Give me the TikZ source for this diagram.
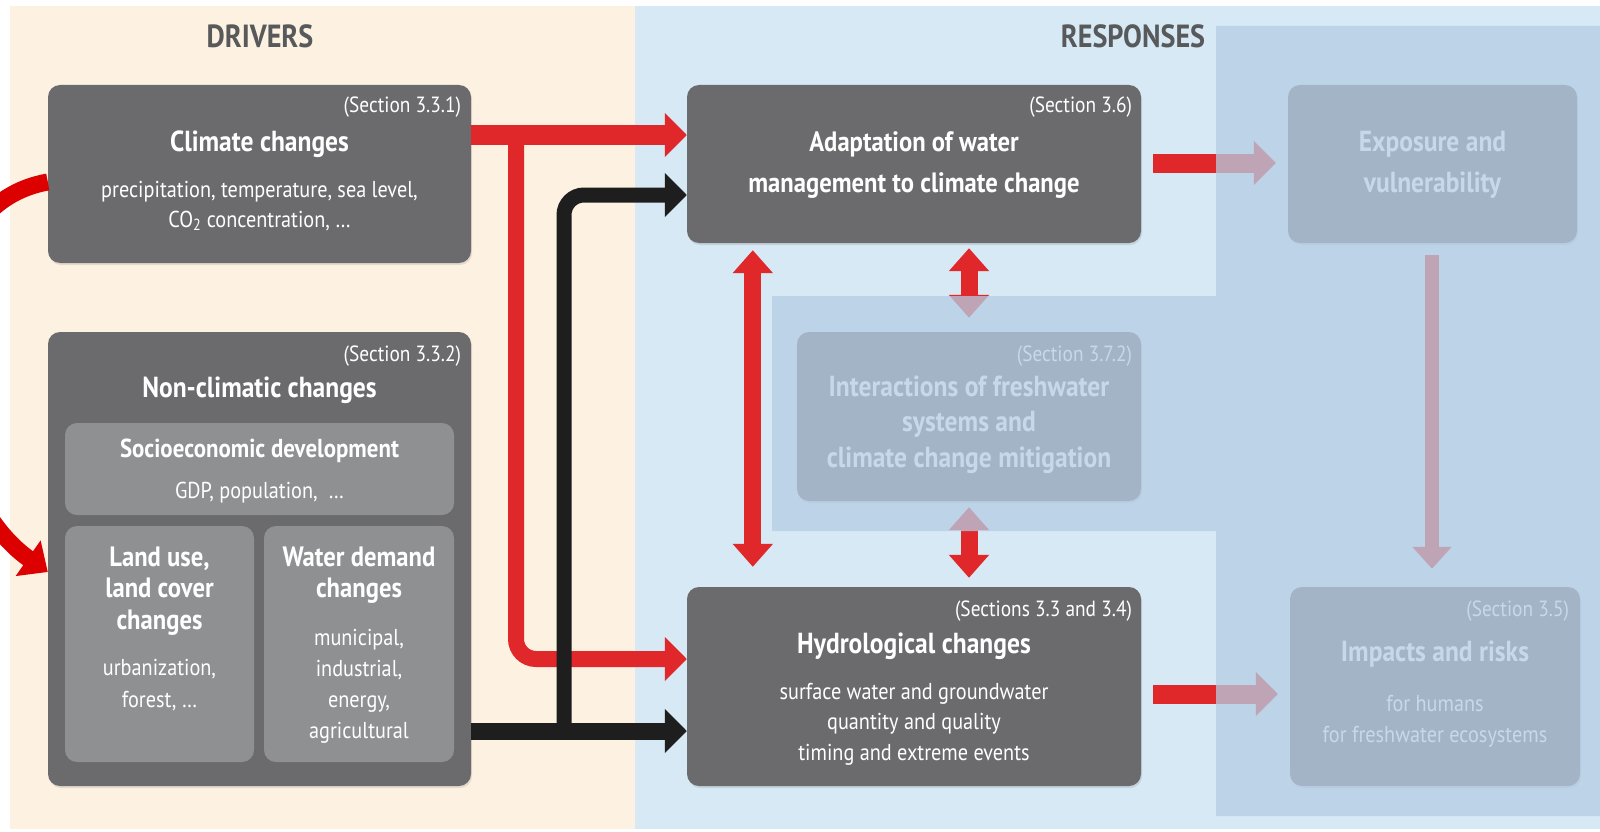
\documentclass[tikz,border=0pt]{standalone}
\usepackage{fontspec}
\setmainfont{PT Sans}[FakeStretch=0.88]
\usetikzlibrary{arrows.meta,positioning,shadows}

\definecolor{beige}{HTML}{FDF1E1}
\definecolor{bluebg}{HTML}{D6E9F5}
\definecolor{veil}{HTML}{B5CCE4}
\definecolor{boxgray}{HTML}{6B6B6E}
\definecolor{subgray}{HTML}{8E9092}
\definecolor{arrred}{HTML}{E0282A}
\definecolor{arrblack}{HTML}{1E1E1E}
\definecolor{loopred}{HTML}{DC0000}
\definecolor{headgray}{HTML}{58595B}

\tikzset{
  darkbox/.style={fill=boxgray, rounded corners=12pt, inner sep=0pt,
    drop shadow={shadow xshift=1pt, shadow yshift=-2pt, opacity=0.2}},
  subbox/.style={fill=subgray, rounded corners=12pt, inner sep=0pt},
  colhead/.style={text=headgray, font=\bfseries\fontsize{32}{36}\selectfont, anchor=base, inner sep=0pt},
  sec/.style={text=white, font=\fontsize{22}{26}\selectfont, anchor=base east, inner sep=0pt},
  ttl/.style={text=white, font=\bfseries\fontsize{29}{34}\selectfont, align=center, anchor=base, inner sep=0pt},
  txt/.style={text=white, font=\fontsize{23}{30}\selectfont, align=center, anchor=base, inner sep=0pt},
  redarr/.style={draw=arrred, line width=19pt, -{Triangle[length=22pt,width=43pt]}},
  blackarr/.style={draw=arrblack, line width=17pt, -{Triangle[length=22pt,width=43pt]}},
  reddbl/.style={draw=arrred, line width=17pt,
    {Triangle[length=23pt,width=39pt]}-{Triangle[length=23pt,width=39pt]}},
  downarr/.style={draw=arrred, line width=14pt, -{Triangle[length=22pt,width=38pt]}},
}

\begin{document}
\begin{tikzpicture}[x=1pt,y=-1pt]
  \useasboundingbox (0,0) rectangle (1600,832);
  \fill[white] (0,0) rectangle (1600,832);
  % panels
  \fill[beige] (10,6) rectangle (635,829);
  \fill[bluebg] (635,6) rectangle (1600,829);
  \node[colhead] (drivers) at (260,48) {DRIVERS};
  \node[colhead] (responses) at (1133,48) {RESPONSES};

  % drivers (multi-line texts sit on their last line)
  \node[darkbox, minimum width=423pt, minimum height=178pt] (clim) at (259.5,174) {};
  \node[sec] (climsec) at ([xshift=-10pt]clim.east |- 0,113) {(Section 3.3.1)};
  \node[ttl] (climttl) at (clim |- 0,151) {Climate changes};
  \node[txt] (climtxt) at (clim |- 0,227) {precipitation, temperature, sea level,\\CO\textsubscript{2} concentration, …};

  \node[darkbox, minimum width=423pt, minimum height=454pt] (nonclim) at (259.5,559) {};
  \node[sec] (nonclimsec) at ([xshift=-10pt]nonclim.east |- 0,361) {(Section 3.3.2)};
  \node[ttl] (nonclimttl) at (nonclim |- 0,397) {Non-climatic changes};

  \node[subbox, minimum width=389pt, minimum height=92pt] (socio) at (259.5,469) {};
  \node[ttl, font=\bfseries\fontsize{26}{30}\selectfont] (sociottl) at (socio |- 0,457) {Socioeconomic development};
  \node[txt] (sociotxt) at (socio |- 0,498) {GDP, population,~~…};

  \node[subbox, minimum width=189pt, minimum height=236pt] (land) at (159.5,644) {};
  \node[ttl, font=\bfseries\fontsize{28}{31.5}\selectfont] (landttl) at (land |- 0,629) {Land use,\\land cover\\changes};
  \node[txt, font=\fontsize{23}{32}\selectfont] (landtxt) at (land |- 0,707) {urbanization,\\forest, …};

  \node[subbox, minimum width=190pt, minimum height=236pt] (water) at (359,644) {};
  \node[ttl, font=\bfseries\fontsize{28}{31.5}\selectfont] (waterttl) at (water |- 0,597.5) {Water demand\\changes};
  \node[txt, font=\fontsize{23}{31}\selectfont] (watertxt) at (water |- 0,738) {municipal,\\industrial,\\energy,\\agricultural};

  % responses
  \node[darkbox, minimum width=454pt, minimum height=158pt] (adapt) at (914,164) {};
  \node[sec] (adaptsec) at ([xshift=-9pt]adapt.east |- 0,113) {(Section 3.6)};
  \node[ttl, font=\bfseries\fontsize{28}{41}\selectfont] (adaptttl) at (adapt |- 0,192) {Adaptation of water\\management to climate change};

  \node[darkbox, minimum width=454pt, minimum height=199pt] (hydro) at (914,686.5) {};
  \node[sec] (hydrosec) at ([xshift=-9pt]hydro.east |- 0,616) {(Sections 3.3 and 3.4)};
  \node[ttl] (hydrottl) at (hydro |- 0,653) {Hydrological changes};
  \node[txt, font=\fontsize{23}{30.5}\selectfont] (hydrotxt) at (hydro |- 0,760) {surface water and groundwater\\quantity and quality\\timing and extreme events};

  \node[darkbox, minimum width=344pt, minimum height=169pt] (inter) at (969,416.5) {};
  \node[sec] (intersec) at ([xshift=-9pt]inter.east |- 0,361) {(Section 3.7.2)};
  \node[ttl, font=\bfseries\fontsize{29}{35.5}\selectfont] (interttl) at (inter |- 0,467) {Interactions of freshwater\\systems and\\climate change mitigation};

  \node[darkbox, minimum width=289pt, minimum height=158pt] (expo) at (1432.5,164) {};
  \node[ttl, font=\bfseries\fontsize{29}{41}\selectfont] (expottl) at (expo |- 0,192) {Exposure and\\vulnerability};

  \node[darkbox, minimum width=290pt, minimum height=199pt] (impact) at (1435,686.5) {};
  \node[sec] (impactsec) at ([xshift=-11pt]impact.east |- 0,616) {(Section 3.5)};
  \node[ttl] (impactttl) at (impact |- 0,661) {Impacts and risks};
  \node[txt, font=\fontsize{23}{31}\selectfont] (impacttxt) at (impact |- 0,742) {for humans\\for freshwater ecosystems};

  % connectors
  \coordinate (redin) at ([yshift=29pt]adapt.west);
  \coordinate (blackin) at ([yshift=-31pt]adapt.west);
  \coordinate (redlow) at ([yshift=27.5pt]hydro.west);
  \coordinate (blacklow) at ([yshift=-44.5pt]hydro.west);
  \coordinate (redsplit) at (516,0 |- redin);
  \coordinate (blacksplit) at (564,0 |- blacklow);
  \draw[redarr] (clim.east |- redin) -- (redin);
  \draw[redarr, line width=16pt, rounded corners=20pt] (redsplit) |- (redlow);
  \draw[blackarr] (nonclim.east |- blacklow) -- (blacklow);
  \draw[blackarr, line width=15pt, rounded corners=20pt] (blacksplit) |- (blackin);

  \draw[reddbl] ([xshift=66pt,yshift=-7pt]adapt.south west) -- ([xshift=66pt,yshift=20pt]hydro.north west);
  \draw[reddbl] ([yshift=-5pt]adapt.south -| inter) -- ([yshift=14pt]inter.north);
  \draw[reddbl] ([yshift=-6pt]inter.south) -- ([yshift=9pt]hydro.north -| inter);

  \draw[redarr] ([xshift=12pt,yshift=1pt]adapt.east) -- ([xshift=-12pt,yshift=1pt]expo.west);
  \draw[redarr] ([xshift=12pt,yshift=-7.5pt]hydro.east) -- ([xshift=-12pt,yshift=-7.5pt]impact.west);
  \draw[downarr] ([yshift=-12pt]expo.south -| 1432,0) -- ([yshift=18pt]impact.north -| 1432,0);

  \begin{scope}
    \clip (0,0) rectangle (1600,832);
    \draw[draw=loopred, line width=17pt, -{Triangle[length=24pt,width=42pt]}]
      ([yshift=-8pt]clim.west) to[out=190,in=145] ([yshift=-13pt]nonclim.west);
  \end{scope}

  % veil over the parts not treated here
  \fill[veil, fill opacity=0.755] (772,296) -- (1216,296) -- (1216,26) -- (1600,26)
    -- (1600,816) -- (1216,816) -- (1216,531) -- (772,531) -- cycle;
\end{tikzpicture}
\end{document}
